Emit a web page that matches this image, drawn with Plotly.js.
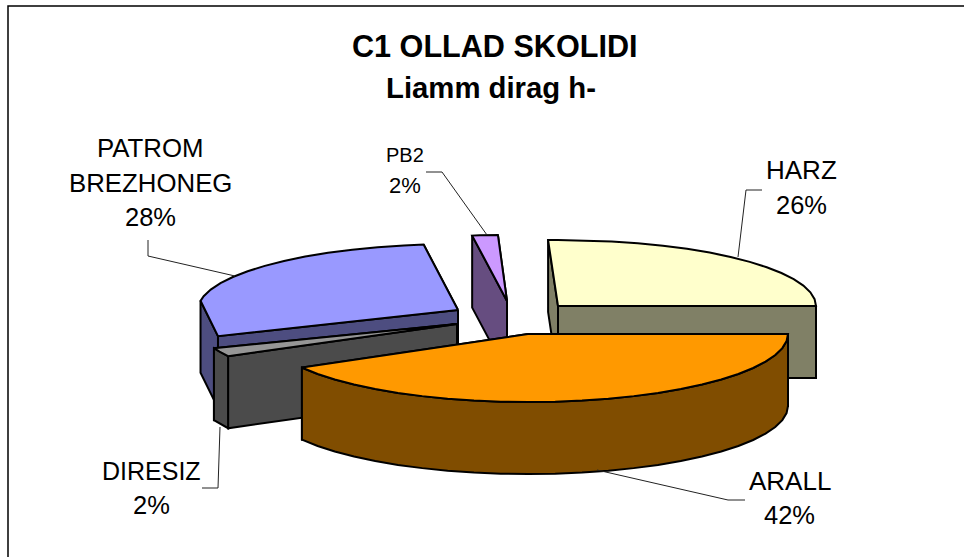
<!DOCTYPE html>
<html><head><meta charset="utf-8">
<script src="https://cdn.plot.ly/plotly-3.0.1.min.js"></script>
<style>html,body{margin:0;padding:0;background:#fff}#c{width:964px;height:557px}</style>
</head><body><div id="c"></div>
<script>
// ---- data ----
const titleLines = ['C1 OLLAD SKOLIDI', 'Liamm dirag h-'];
const categories = ['HARZ', 'ARALL', 'DIRESIZ', 'PATROM BREZHONEG', 'PB2'];
const percents = [26, 42, 2, 28, 2];
const topColors = ['#ffffcc', '#ff9900', '#969696', '#9999ff', '#cc99ff'];
const wallColors = ['#808066', '#804d00', '#4b4b4b', '#4d4d80', '#664d80'];

// ---- drawing geometry (exploded 3D pie seen from above) ----
const startAngle = -3.6, ryNear = 68, ryFar = 66, depth = 72, arcStep = 6;
const rxs = [258, 260, 260, 260, 260];
const apexes = [[558, 306], [528, 334], [457, 324], [458, 310], [507, 301]];
// Excel's perspective slightly shifts where each slice edge lands
const viewSkew = [[1.4, 0], [0, -0.8], [0.5, 0.8], [-1, 3.2], [3.1, 1.6]];
// the original's coarse outline cuts a chord across the far-left of one slice
const chordEnd = [null, null, null, 278, null];
const paintOrder = [0, 4, 3, 2, 1];
const leaders = [
  [[762, 746, 738], [190, 190, 257]],
  [[745, 728, 597], [500, 500, 470]],
  [[202, 218, 220], [488, 488, 427]],
  [[148, 148, 235], [240, 256, 276]],
  [[426, 442, 487], [172, 172, 235]]
];
const labelPlaces = [
  {x: 801, y: 170, gap: 35, size: 26, pctSize: 25.5},
  {x: 789.5, y: 481, gap: 34, size: 26, pctSize: 25.5},
  {x: 151, y: 471, gap: 34, size: 25, pctSize: 25.5},
  {x: 150, y: 148, gap: 34.5, size: 25.8, pctSize: 25.5},
  {x: 405, y: 155, gap: 30, size: 20, pctSize: 22}
];

const rad = d => d * Math.PI / 180;
const total = percents.reduce((a, b) => a + b, 0);
let running = startAngle;
const spans = percents.map((v, i) => {
  const a0 = running, a1 = running + v / total * 360;
  running = a1;
  return [a0 + viewSkew[i][0], a1 + viewSkew[i][1]];
});
const rim = (i, a, dz) => {
  const c = Math.cos(rad(a));
  return [apexes[i][0] + rxs[i] * Math.sin(rad(a)), apexes[i][1] - (c > 1e-6 ? ryFar : ryNear) * c + (dz || 0)];
};
function arc(a0, a1, i) {
  const out = [a0];
  const chord = chordEnd[i];
  if (chord !== null) out.push(chord);
  for (let a = Math.ceil(a0 / arcStep) * arcStep; a < a1; a += arcStep) {
    if (a <= a0) continue;
    if (chord !== null && a <= chord) continue;
    out.push(a);
  }
  if (a1 !== out[out.length - 1]) out.push(a1);
  return out;
}
function face(pts, color) {
  return {
    type: 'scatter', mode: 'lines', x: pts.map(p => p[0]), y: pts.map(p => p[1]),
    fill: 'toself', fillcolor: color, line: {color: '#000', width: 2},
    hoverinfo: 'skip', showlegend: false
  };
}
function cutFace(i, a) {
  const ap = apexes[i];
  return face([ap, rim(i, a), rim(i, a, depth), [ap[0], ap[1] + depth], ap], wallColors[i]);
}

const traces = [];
paintOrder.forEach(i => {
  const [a0, a1] = spans[i];
  traces.push(cutFace(i, a1));
  traces.push(cutFace(i, a0));
  const w0 = Math.max(a0, 90), w1 = chordEnd[i] !== null ? chordEnd[i] : Math.min(a1, 270);
  if (w1 > w0) {
    const a = arc(w0, w1, i);
    const pts = a.map(t => rim(i, t)).concat(a.slice().reverse().map(t => rim(i, t, depth)));
    pts.push(pts[0]);
    traces.push(face(pts, wallColors[i]));
  }
  traces.push(face([apexes[i]].concat(arc(a0, a1, i).map(t => rim(i, t))).concat([apexes[i]]), topColors[i]));
});
leaders.forEach(l => traces.push({
  type: 'scatter', mode: 'lines', x: l[0], y: l[1],
  line: {color: '#222', width: 1}, hoverinfo: 'skip', showlegend: false
}));

const ann = [];
const txt = (text, x, y, size, bold) => ann.push({
  text: bold ? '<b>' + text + '</b>' : text, x, y, xref: 'x', yref: 'y',
  xanchor: 'center', yanchor: 'middle', showarrow: false,
  font: {family: '"Liberation Sans", Arial, sans-serif', size, color: '#000'}
});
txt(titleLines[0], 495, 46, 30.6, true);
txt(titleLines[1], 491, 87, 29.3, true);
categories.forEach((c, i) => {
  const p = labelPlaces[i], parts = c.split(' ');
  parts.forEach((w, k) => txt(w, p.x, p.y + k * p.gap, p.size));
  txt(percents[i] + '%', p.x, p.y + parts.length * p.gap, p.pctSize);
});

Plotly.newPlot('c', traces, {
  width: 964, height: 557, margin: {l: 0, r: 0, t: 0, b: 0},
  paper_bgcolor: '#fff', plot_bgcolor: '#fff', showlegend: false,
  xaxis: {range: [0, 964], visible: false, fixedrange: true},
  yaxis: {range: [557, 0], visible: false, fixedrange: true},
  annotations: ann,
  shapes: [{type: 'path', xref: 'x', yref: 'y', path: 'M8,557 L8,6 L964,6', line: {color: '#000', width: 1.5}}]
}, {displayModeBar: false, staticPlot: true});
</script></body></html>
